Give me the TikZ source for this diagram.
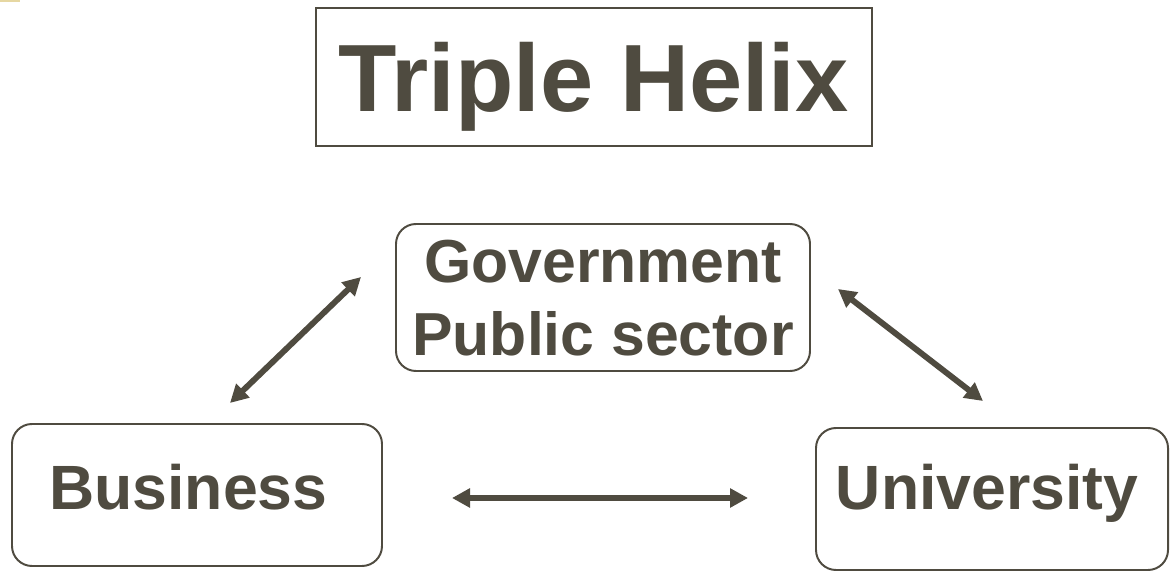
\documentclass[tikz,border=0pt]{standalone}
\usepackage{fontspec}
\setmainfont{Liberation Sans}
\usetikzlibrary{arrows.meta}
\definecolor{helix}{HTML}{4F4B40}
\definecolor{helixtan}{HTML}{E6D7A2}
\begin{document}
\begin{tikzpicture} [
                x=1cm, y=1cm,
                title box/.style={draw=helix,line width=1.4pt,minimum width=13.9cm,minimum height=3.45cm,
                    text=helix,font=\bfseries\fontsize{68}{80}\selectfont,text height=48.7pt,text depth=0pt},
                actor/.style={draw=helix,line width=1.4pt,rounded corners=0.5cm,text=helix,align=center,
                    inner sep=0pt,font=\bfseries\fontsize{44.5}{50}\selectfont,text height=32pt,text depth=11.4pt},
                link/.style={draw=helix,line width=4.2pt,{Triangle[length=0.45cm,width=0.46cm]}-{Triangle[length=0.45cm,width=0.46cm]}},
            ]
            \useasboundingbox (0,0) rectangle (29.25,14.3);
            \fill[helixtan] (0,14.3) rectangle (0.5,14.25);
            % the heading
            \node[title box] (title) at (14.84,12.375) {Triple Helix};
            % the three partners
            \node[actor,minimum width=10.35cm,minimum height=3.675cm,
                font=\bfseries\fontsize{43.2}{52}\selectfont,text height=82.6pt,text depth=0pt] (gov) at (15.075,6.8625)
                {Government~\\Public sector};
            \node[actor,minimum width=9.25cm,minimum height=3.55cm] (bus) at (4.925,1.925) {Business~};
            \node[actor,minimum width=8.8cm,minimum height=3.55cm,text depth=17pt] (uni) at (24.8,1.825) {University\hspace{7pt}};
            % ends of the links
            \coordinate (bg) at (5.75,4.225);
            \coordinate (gb) at (9.025,7.375);
            \coordinate (gu) at (20.95,7.075);
            \coordinate (ug) at (24.575,4.275);
            \coordinate (bu) at (11.3,1.85);
            \coordinate (ub) at (18.7,1.85);
            % two-way links between the partners
            \path[link] (bg) -- (gb);
            \path[link] (gu) -- (ug);
            \path[link] (bu) -- (ub);
        \end{tikzpicture}
\end{document}
